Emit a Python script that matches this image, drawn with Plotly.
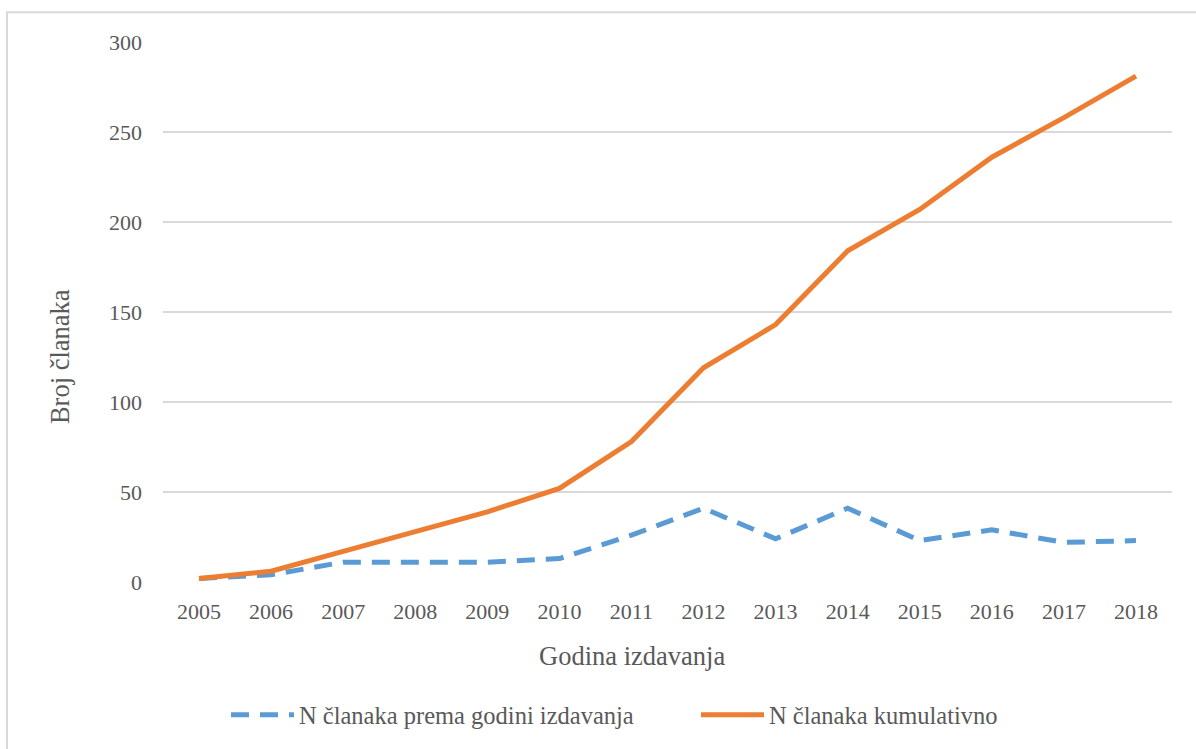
import plotly.graph_objects as go

years = ["2005", "2006", "2007", "2008", "2009", "2010", "2011",
         "2012", "2013", "2014", "2015", "2016", "2017", "2018"]
per_year = [2, 4, 11, 11, 11, 13, 26, 41, 24, 41, 23, 29, 22, 23]
cumulative = [2, 6, 17, 28, 39, 52, 78, 119, 143, 184, 207, 236, 258, 281]

name_year = "N članaka prema godini izdavanja"
name_cum = "N članaka kumulativno"
x_title = "Godina izdavanja"
y_title = "Broj članaka"

FONT = "Liberation Serif, Times New Roman, serif"
GREY = "#595959"
L, R, T, B = 163, 24, 42, 162
PW, PH = 1196 - L - R, 749 - T - B

fig = go.Figure()
fig.add_trace(go.Scatter(
    x=years, y=per_year, mode="lines", name=name_year,
    line=dict(color="#5B9BD5", width=5, dash="18px,11px"),
))
fig.add_trace(go.Scatter(
    x=years, y=cumulative, mode="lines", name=name_cum,
    line=dict(color="#ED7D31", width=5),
))

fig.update_layout(
    width=1196, height=749,
    margin=dict(l=L, r=R, t=T, b=B),
    paper_bgcolor="white", plot_bgcolor="white",
    font=dict(family=FONT, size=22, color=GREY),
    showlegend=True,
    legend=dict(orientation="h", x=(226 - L) / PW, xanchor="left",
                y=(587 - 721) / PH, yanchor="middle",
                font=dict(size=24.5, color=GREY), itemwidth=63, tracegroupgap=0,
                entrywidth=392),
    xaxis=dict(
        type="category", range=[-0.5, 13.5], showgrid=False, zeroline=False,
        showline=False, ticks="", ticklabelstandoff=14,
        tickfont=dict(size=22, color=GREY),
    ),
    yaxis=dict(
        range=[0, 300], dtick=50, showgrid=True, gridcolor="#D9D9D9", gridwidth=2,
        zeroline=False, showline=False, ticks="", ticklabelstandoff=20,
        tickfont=dict(size=22, color=GREY),
    ),
    annotations=[
        dict(text=x_title, xref="paper", yref="paper",
             x=(632 - L) / PW, y=(587 - 662) / PH, xanchor="center", yanchor="middle",
             showarrow=False, font=dict(size=26.5, color=GREY)),
        dict(text=y_title, xref="paper", yref="paper", textangle=-90,
             x=(60 - L) / PW, y=(587 - 360) / PH, xanchor="center", yanchor="middle",
             showarrow=False, font=dict(size=26.5, color=GREY)),
    ],
    shapes=[dict(type="rect", xref="paper", yref="paper",
                 x0=(7 - L) / PW, x1=1.2, y0=-0.5, y1=1 + 30 / PH,
                 line=dict(color="#D9D9D9", width=2), layer="below")],
)

fig.write_html(
    "out.html", config={"displayModeBar": False},
    post_script=("document.body.style.margin='0';"
                 "document.body.style.overflow='hidden';"
                 "document.documentElement.style.overflow='hidden';"),
)
